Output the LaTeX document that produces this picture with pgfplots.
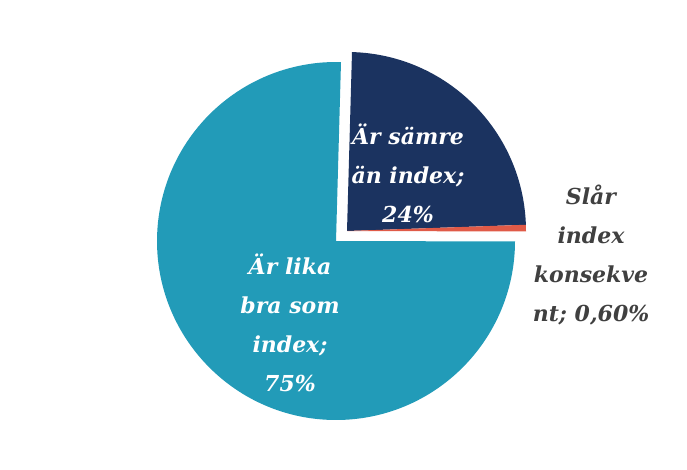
\documentclass[border=0pt]{standalone}
\usepackage{fontspec}
\newfontfamily\piefont{DejaVu Serif}
\usepackage{pgfplots}
\usepackage{pgfplotstable}
\pgfplotsset{compat=1.18}

\definecolor{navy}{HTML}{1B3360}
\definecolor{lagoon}{HTML}{229BB8}
\definecolor{coral}{HTML}{E05A47}
\definecolor{inkgray}{HTML}{404040}

% shares of the pie, in percent, clockwise from the first slice angle
\pgfplotstableread{
label share
samre 24.0
slar 0.6
lika 75.4
}\piedata
\pgfplotstablegetelem{0}{share}\of\piedata \let\sA\pgfplotsretval
\pgfplotstablegetelem{1}{share}\of\piedata \let\sB\pgfplotsretval
\pgfplotstablegetelem{2}{share}\of\piedata \let\sC\pgfplotsretval
\def\aO{88.4}
\pgfmathsetmacro\aA{\aO-3.6*\sA}
\pgfmathsetmacro\aB{\aA-3.6*\sB}
\pgfmathsetmacro\aC{\aB-3.6*\sC}

\begin{document}
\begin{tikzpicture}
\begin{axis}[
    name=pie,
    hide axis,
    scale only axis,
    width=687pt, height=469pt,
    xmin=0, xmax=687, ymin=0, ymax=469,
    clip=false,
]
% exploded slices
\fill[navy] (axis cs:347,238) -- ++(\aO:179pt)
    arc[start angle=\aO, end angle=\aA, radius=179pt] -- cycle;
\fill[coral] (axis cs:347,238) -- ++(\aA:179pt)
    arc[start angle=\aA, end angle=\aB, radius=179pt] -- cycle;
% main slice
\fill[lagoon] (axis cs:336,228) -- ++(\aB:179pt)
    arc[start angle=\aB, end angle=\aC, radius=179pt] -- cycle;

\begin{scope}[every node/.style={align=center,
    font=\piefont\fontsize{22}{39}\selectfont\bfseries\itshape}]
\node[text=white] at (axis cs:408,296) {Är sämre\\än index;\\24\%};
\node[text=white] at (axis cs:290,146) {Är lika\\bra som\\index;\\75\%};
\node[text=inkgray] at (axis cs:591,214) {Slår\\index\\konsekve\\nt; 0,60\%};
\end{scope}
\end{axis}
\pgfresetboundingbox
\path (pie.south west) rectangle (pie.north east);
\end{tikzpicture}
\end{document}
